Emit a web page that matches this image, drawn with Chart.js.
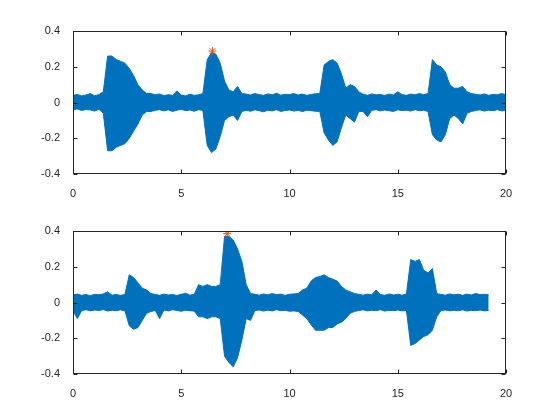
<!DOCTYPE html>
<html>
<head>
<meta charset="utf-8">
<script src="https://cdn.jsdelivr.net/npm/chart.js@4.4.1/dist/chart.umd.min.js"></script>
<style>
  body { margin: 0; background: #fff; }
  #wrap { position: relative; width: 560px; height: 420px; }
  canvas { position: absolute; left: 0; }
</style>
</head>
<body>
<div id="wrap">
  <canvas id="top" width="560" height="200" style="top:0"></canvas>
  <canvas id="bottom" width="560" height="220" style="top:200px"></canvas>
</div>
<script>
// sample spacing of the envelope readings (seconds)
var step = 0.2;

// tick labels
var xTicks = [0, 5, 10, 15, 20];
var yTicks = [-0.4, -0.2, 0, 0.2, 0.4];

// upper subplot: envelope of the waveform, t = 0 .. 20 s
var upper1 = [0.04, 0.045, 0.037, 0.042, 0.05, 0.038, 0.044,
  0.06, 0.26, 0.26, 0.24, 0.23, 0.22, 0.19, 0.15, 0.10, 0.07, 0.05, 0.05,
  0.043, 0.048, 0.038, 0.044, 0.04, 0.065, 0.042, 0.037, 0.046, 0.04, 0.043, 0.05,
  0.24, 0.28, 0.27, 0.22, 0.12, 0.07, 0.06, 0.09, 0.05,
  0.047, 0.042, 0.05, 0.044, 0.04, 0.048, 0.043, 0.052, 0.041, 0.046, 0.044, 0.05, 0.042, 0.047, 0.04, 0.045, 0.049,
  0.05, 0.21, 0.23, 0.24, 0.22, 0.16, 0.08, 0.10, 0.09, 0.06,
  0.046, 0.04, 0.048, 0.043, 0.045, 0.039, 0.047, 0.042, 0.06, 0.044, 0.04, 0.047, 0.043, 0.05, 0.044,
  0.05, 0.24, 0.21, 0.20, 0.17, 0.10, 0.08, 0.08, 0.09, 0.06, 0.05,
  0.046, 0.042, 0.048, 0.04, 0.045, 0.043, 0.05, 0.044];
var lower1 = [-0.04, -0.036, -0.045, -0.039, -0.042, -0.048, -0.038,
  -0.06, -0.27, -0.27, -0.25, -0.24, -0.23, -0.20, -0.16, -0.12, -0.07, -0.05, -0.05,
  -0.044, -0.04, -0.047, -0.041, -0.05, -0.043, -0.038, -0.046, -0.042, -0.049, -0.04, -0.045,
  -0.24, -0.28, -0.26, -0.19, -0.10, -0.08, -0.07, -0.10, -0.05,
  -0.044, -0.049, -0.041, -0.046, -0.052, -0.043, -0.047, -0.04, -0.05, -0.045, -0.042, -0.048, -0.044, -0.051, -0.043, -0.046, -0.049,
  -0.05, -0.17, -0.21, -0.24, -0.22, -0.14, -0.07, -0.09, -0.11, -0.05, -0.05, -0.08,
  -0.044, -0.04, -0.047, -0.042, -0.046, -0.05, -0.041, -0.045, -0.043, -0.048, -0.04, -0.046, -0.043,
  -0.05, -0.18, -0.21, -0.22, -0.18, -0.09, -0.07, -0.09, -0.12, -0.06, -0.05,
  -0.045, -0.041, -0.048, -0.043, -0.046, -0.04, -0.047, -0.044];

// lower subplot: envelope of the waveform, t = 0 .. 19.2 s
var upper2 = [0.042, 0.047, 0.04, 0.045, 0.038, 0.046, 0.043, 0.048, 0.06, 0.041, 0.045, 0.039, 0.046,
  0.155, 0.14, 0.11, 0.08, 0.07, 0.05, 0.045,
  0.04, 0.047, 0.042, 0.045, 0.039, 0.046, 0.052, 0.041, 0.046,
  0.10, 0.09, 0.10, 0.09, 0.09, 0.10,
  0.37, 0.37, 0.35, 0.30, 0.23, 0.10, 0.05,
  0.046, 0.041, 0.048, 0.043, 0.05, 0.044, 0.047, 0.04, 0.046, 0.048,
  0.05, 0.07, 0.08, 0.12, 0.14, 0.145, 0.155, 0.14, 0.13, 0.12, 0.09, 0.07, 0.06, 0.05,
  0.046, 0.041, 0.047, 0.043, 0.07, 0.045, 0.04, 0.048, 0.042, 0.046, 0.041, 0.047,
  0.24, 0.23, 0.24, 0.18, 0.165, 0.19, 0.05,
  0.045, 0.041, 0.048, 0.043, 0.046, 0.04, 0.047, 0.042, 0.05, 0.044, 0.046, 0.043];
var lower2 = [-0.045, -0.09, -0.046, -0.04, -0.047, -0.042, -0.045, -0.039, -0.048, -0.043, -0.046, -0.041, -0.047,
  -0.13, -0.15, -0.14, -0.10, -0.06, -0.05, -0.045,
  -0.09, -0.042, -0.047, -0.04, -0.045, -0.049, -0.043, -0.046, -0.048,
  -0.08, -0.08, -0.09, -0.08, -0.08, -0.09,
  -0.30, -0.335, -0.36, -0.31, -0.21, -0.09, -0.10,
  -0.045, -0.042, -0.048, -0.043, -0.047, -0.04, -0.046, -0.044, -0.049, -0.047,
  -0.05, -0.07, -0.09, -0.125, -0.155, -0.155, -0.155, -0.14, -0.14, -0.12, -0.11, -0.09, -0.06, -0.05,
  -0.045, -0.041, -0.047, -0.043, -0.046, -0.04, -0.048, -0.044, -0.046, -0.042, -0.047, -0.044,
  -0.24, -0.23, -0.21, -0.19, -0.18, -0.155, -0.08,
  -0.045, -0.042, -0.047, -0.043, -0.046, -0.041, -0.048, -0.044, -0.046, -0.042, -0.047, -0.044];

// marked maxima (time, value) for each subplot
var peakTime = [6.44, 7.12];
var peakValue = [0.288, 0.385];

var blue = '#0072BD';
var orange = '#D95319';
var axisColor = '#262626';

function toPoints(vals) {
  var pts = [];
  for (var i = 0; i < vals.length; i++) {
    pts.push({ x: Math.round(i * step * 10) / 10, y: vals[i] });
  }
  return pts;
}

// draws the matlab style box with inward ticks on all four sides
var boxPlugin = {
  id: 'box',
  afterDraw: function(chart) {
    var ctx = chart.ctx;
    var a = chart.chartArea;
    var l = Math.round(a.left) + 0.5, r = Math.round(a.right) - 0.5;
    var t = Math.round(a.top) + 0.5, b = Math.round(a.bottom) - 0.5;
    var len = 4;
    ctx.save();
    ctx.strokeStyle = axisColor;
    ctx.lineWidth = 1;
    ctx.strokeRect(l, t, r - l, b - t);
    ctx.beginPath();
    chart.scales.x.ticks.forEach(function(tk) {
      var px = Math.round(chart.scales.x.getPixelForValue(tk.value)) + 0.5;
      ctx.moveTo(px, b); ctx.lineTo(px, b - len);
      ctx.moveTo(px, t); ctx.lineTo(px, t + len);
    });
    chart.scales.y.ticks.forEach(function(tk) {
      var py = Math.round(chart.scales.y.getPixelForValue(tk.value)) + 0.5;
      ctx.moveTo(l, py); ctx.lineTo(l + len, py);
      ctx.moveTo(r, py); ctx.lineTo(r - len, py);
    });
    ctx.stroke();
    ctx.restore();
  }
};

function makeChart(id, up, low, k, xHeight) {
  var ctx = document.getElementById(id);
  return new Chart(ctx, {
    type: 'line',
    data: {
      datasets: [{
        data: [{ x: peakTime[k], y: peakValue[k] }],
        showLine: false,
        pointStyle: 'star',
        pointRadius: 4,
        borderColor: orange,
        backgroundColor: orange,
        borderWidth: 1,
        order: -1
      }, {
        data: toPoints(up),
        borderColor: blue,
        backgroundColor: blue,
        borderWidth: 1,
        pointRadius: 0,
        fill: '+1'
      }, {
        data: toPoints(low),
        borderColor: blue,
        backgroundColor: blue,
        borderWidth: 1,
        pointRadius: 0,
        fill: false
      }]
    },
    options: {
      responsive: false,
      animation: false,
      layout: { padding: { top: 31, right: 54, left: 0, bottom: 0 } },
      plugins: { legend: { display: false }, tooltip: { enabled: false } },
      scales: {
        x: {
          type: 'linear',
          min: 0, max: 20,
          grid: { display: false },
          border: { display: false },
          afterFit: function(s) { s.height = xHeight; },
          afterBuildTicks: function(s) { s.ticks = xTicks.map(function(v) { return { value: v }; }); },
          ticks: {
            padding: 5,
            color: axisColor,
            maxRotation: 0,
            font: { family: 'Liberation Sans, Arial, sans-serif', size: 11 }
          }
        },
        y: {
          min: -0.4, max: 0.4,
          grid: { display: false },
          border: { display: false },
          afterFit: function(s) { s.width = 73; },
          afterBuildTicks: function(s) { s.ticks = yTicks.map(function(v) { return { value: v }; }); },
          ticks: {
            padding: 5,
            color: axisColor,
            font: { family: 'Liberation Sans, Arial, sans-serif', size: 11 },
            callback: function(v) { return String(Math.round(v * 10) / 10); }
          }
        }
      }
    },
    plugins: [boxPlugin]
  });
}

makeChart('top', upper1, lower1, 0, 26);
makeChart('bottom', upper2, lower2, 1, 46);
</script>
</body>
</html>
